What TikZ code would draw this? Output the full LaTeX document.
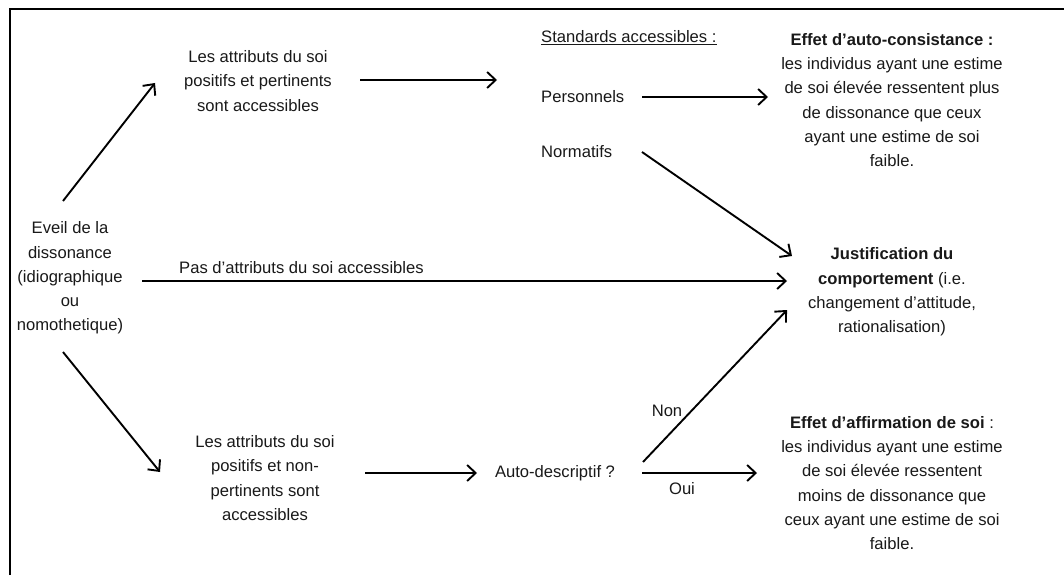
\documentclass[tikz,border=0pt]{standalone}
\usepackage{fontspec}
\setmainfont{Liberation Sans}
\usetikzlibrary{arrows.meta}
\begin{document}
\begin{tikzpicture}[x=1pt,y=-1pt,
  txt/.style={font=\fontsize{16.6}{24.2}\selectfont, align=center, inner sep=0pt, text=black!90},
  arr/.style={line width=1.9pt, -{Straight Barb[length=8.5pt,width=16pt,line width=1.9pt]}},
  lab/.style={font=\fontsize{16.6}{24.2}\selectfont, inner sep=0pt, text=black!90}]
\useasboundingbox (0,0) rectangle (1064,575);
\fill[white] (0,0) rectangle (1064,575);
\draw[line width=1.5pt] (10,575) -- (10,9) -- (1064,9);

\node[txt] (eveil) at (70,278) {Eveil de la\\dissonance\\(idiographique\\ou\\nomothetique)};
\node[txt] (top) at (258,81) {Les attributs du soi\\positifs et pertinents\\sont accessibles};
\node[txt, anchor=west] (std) at (541,38) {\underline{Standards accessibles :}};
\node[txt, anchor=west] (pers) at (541,97) {Personnels};
\node[txt, anchor=west] (norm) at (541,152) {Normatifs};
\node[txt] (effet1) at (892,100) {\textbf{Effet d’auto-consistance :}\\les individus ayant une estime\\de soi élevée ressentent plus\\de dissonance que ceux\\ayant une estime de soi\\faible.};
\node[txt] (justif) at (892,292) {\textbf{Justification du}\\\textbf{comportement} (i.e.\\changement d’attitude,\\rationalisation)};
\node[txt] (bottom) at (265,478) {Les attributs du soi\\positifs et non-\\pertinents sont\\accessibles};
\node[txt] (auto) at (555,473) {Auto-descriptif ?};
\node[txt] (effet2) at (892,483) {\textbf{Effet d’affirmation de soi} :\\les individus ayant une estime\\de soi élevée ressentent\\moins de dissonance que\\ceux ayant une estime de soi\\faible.};

\node[lab, anchor=west] (pas) at (179,268) {Pas d’attributs du soi accessibles};
\node[lab] (oui) at (682,489) {Oui};
\node[lab] (non) at (667,411) {Non};

\draw[arr] ([shift={(-7,-77)}]eveil.center) -- ([shift={(-103,2)}]top.center);
\draw[arr] ([shift={(102,-1)}]top.center) -- ([shift={(-44,-17)}]pers.west);
\draw[arr] ([shift={(101,0)}]pers.west) -- ([shift={(-124,-3)}]effet1.center);
\draw[arr] ([shift={(101,0)}]norm.west) -- ([shift={(-100,-36)}]justif.center);
\draw[arr] ([shift={(72,3)}]eveil.center) -- ([shift={(-105,-11)}]justif.center);
\draw[arr] ([shift={(-7,74)}]eveil.center) -- ([shift={(-105,-6)}]bottom.center);
\draw[arr] ([shift={(100,-5)}]bottom.center) -- ([shift={(-78,0)}]auto.center);
\draw[arr] ([shift={(87,0)}]auto.center) -- ([shift={(-135,-10)}]effet2.center);
\draw[arr] ([shift={(88,-11)}]auto.center) -- ([shift={(-105,18)}]justif.center);
\end{tikzpicture}
\end{document}
